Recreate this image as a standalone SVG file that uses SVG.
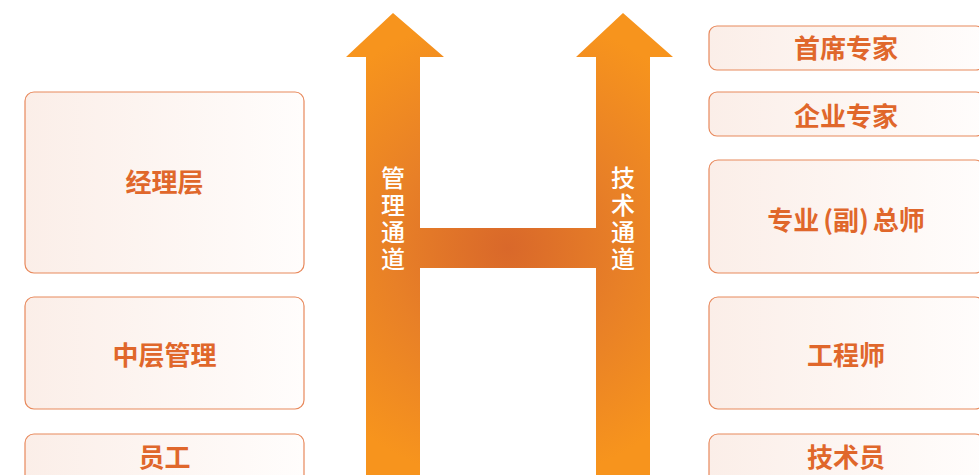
<svg xmlns="http://www.w3.org/2000/svg" width="979" height="475" viewBox="0 0 979 475">
<defs>
<linearGradient id="boxg" x1="0" y1="0" x2="1" y2="0">
<stop offset="0" stop-color="#fbeee8"/>
<stop offset="1" stop-color="#fffdfc"/>
</linearGradient>
<radialGradient id="hg" gradientUnits="userSpaceOnUse" cx="508" cy="248" r="235">
<stop offset="0" stop-color="#d9682a"/>
<stop offset="0.5" stop-color="#e88027"/>
<stop offset="1" stop-color="#f7941d"/>
</radialGradient>
<style>
.box{fill:url(#boxg);stroke:#e8895c;stroke-width:1.2}
.lbl{font-family:"Noto Sans CJK SC","Noto Sans",sans-serif;font-size:26px;fill:#e0672b;text-anchor:middle;font-weight:bold}
.vt{font-family:"Noto Sans CJK SC","Noto Sans",sans-serif;font-size:24px;fill:#ffffff;font-weight:500;writing-mode:vertical-rl;letter-spacing:3px}
</style>
</defs>
<rect width="979" height="475" fill="#ffffff"/>
<g id="connectors">
<path d="M366,475 L366,57 L346,57 L393,13 L444,57 L420,57 L420,228 L596,228 L596,57 L576,57 L623,13 L673,57 L650,57 L650,475 L596,475 L596,268 L420,268 L420,475 Z" fill="url(#hg)"/>
<text class="vt" x="393" y="166">管理通道</text>
<text class="vt" x="623" y="166">技术通道</text>
</g>
<g id="n-jingli"><rect class="box" x="25" y="92" width="279" height="181" rx="9"/><text class="lbl" x="164.5" y="192">经理层</text></g>
<g id="n-zhongceng"><rect class="box" x="25" y="297" width="279" height="112" rx="9"/><text class="lbl" x="164.5" y="365">中层管理</text></g>
<g id="n-yuangong"><rect class="box" x="25" y="434" width="279" height="60" rx="9"/><text class="lbl" x="164.5" y="467">员工</text></g>
<g id="n-shouxi"><rect class="box" x="709" y="26" width="275" height="44" rx="8"/><text class="lbl" x="846" y="58">首席专家</text></g>
<g id="n-qiye"><rect class="box" x="709" y="92" width="275" height="44" rx="8"/><text class="lbl" x="846" y="126">企业专家</text></g>
<g id="n-zongshi"><rect class="box" x="709" y="160" width="275" height="113" rx="9"/><text class="lbl" x="846" y="230">专业<tspan dx="4">(副)</tspan><tspan dx="4">总师</tspan></text></g>
<g id="n-gongcheng"><rect class="box" x="709" y="297" width="275" height="112" rx="9"/><text class="lbl" x="846" y="365">工程师</text></g>
<g id="n-jishuyuan"><rect class="box" x="709" y="434" width="275" height="60" rx="9"/><text class="lbl" x="846" y="467">技术员</text></g>
</svg>
